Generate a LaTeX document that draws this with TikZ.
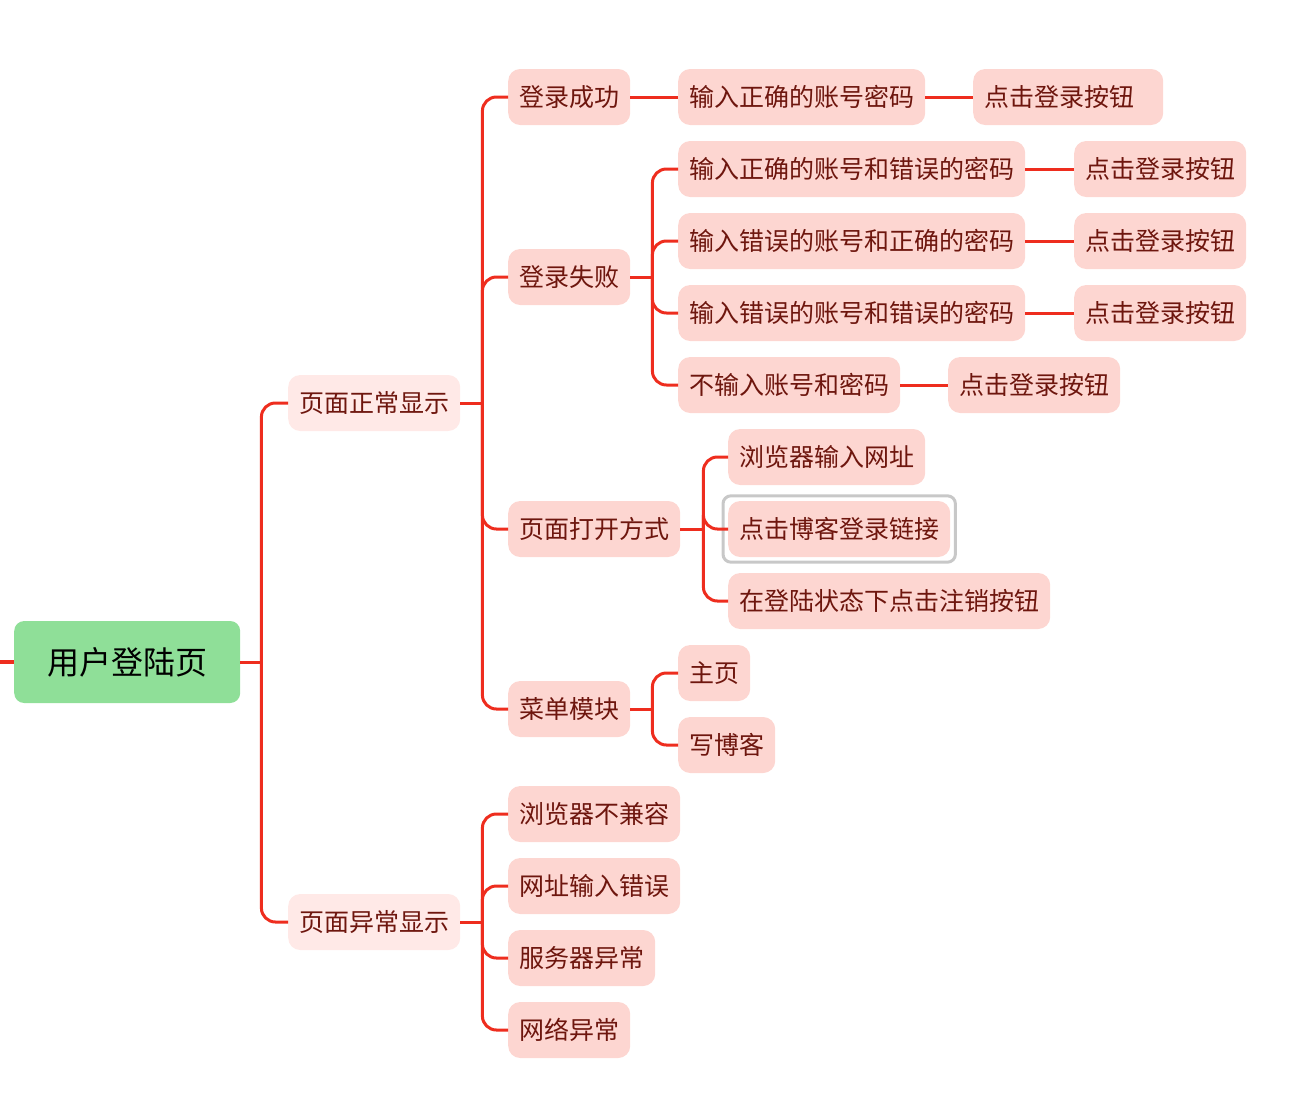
\documentclass[tikz,border=0pt]{standalone}
\usepackage{fontspec}
\setmainfont{Noto Sans CJK SC}
\definecolor{linkred}{RGB}{238,45,30}
\definecolor{rootgreen}{RGB}{143,223,152}
\definecolor{lvlone}{RGB}{255,233,231}
\definecolor{lvltwo}{RGB}{253,214,209}
\definecolor{txtred}{RGB}{110,22,14}
\definecolor{selgray}{RGB}{200,200,200}
\tikzset{
  rootbox/.style={fill=rootgreen, rounded corners=10pt, minimum height=82pt, inner xsep=33pt, inner ysep=0pt, font=\fontsize{32}{36}\selectfont, text=black, anchor=west},
  onebox/.style={fill=lvlone, rounded corners=12pt, minimum height=56pt, inner xsep=11pt, inner ysep=0pt, font=\fontsize{25}{28}\selectfont, text=txtred, anchor=west},
  twobox/.style={onebox, fill=lvltwo},
  link/.style={draw=linkred, line width=3pt},
  elbow/.style={link, rounded corners=14pt},
}
\begin{document}
\begin{tikzpicture}[x=1pt,y=-1pt]
\useasboundingbox (0,0) rectangle (1305,1095);

% nodes
\node[rootbox] (root) at (14,662) {用户登陆页};
\coordinate (left) at (0,662);

\node[onebox] (normal) at (288,403) {页面正常显示};
\node[onebox] (abnormal) at (288,922) {页面异常显示};

\node[twobox] (succ) at (508,97) {登录成功};
\node[twobox] (fail) at (508,277) {登录失败};
\node[twobox] (open) at (508,529) {页面打开方式};
\node[twobox] (menu) at (508,709) {菜单模块};

\node[twobox] (s1) at (678,97) {输入正确的账号密码};
\node[twobox, minimum width=190pt, align=left, text width=168pt] (s1b) at (973,97) {点击登录按钮};

\node[twobox] (f1) at (678,169) {输入正确的账号和错误的密码};
\node[twobox] (f1b) at (1074,169) {点击登录按钮};
\node[twobox] (f2) at (678,241) {输入错误的账号和正确的密码};
\node[twobox] (f2b) at (1074,241) {点击登录按钮};
\node[twobox] (f3) at (678,313) {输入错误的账号和错误的密码};
\node[twobox] (f3b) at (1074,313) {点击登录按钮};
\node[twobox] (f4) at (678,385) {不输入账号和密码};
\node[twobox] (f4b) at (948,385) {点击登录按钮};

\node[twobox] (o1) at (728,457) {浏览器输入网址};
\node[twobox] (o2) at (728,529) {点击博客登录链接};
\node[twobox] (o3) at (728,601) {在登陆状态下点击注销按钮};

\node[twobox] (m1) at (678,673) {主页};
\node[twobox] (m2) at (678,745) {写博客};

\node[twobox] (a1) at (508,814) {浏览器不兼容};
\node[twobox] (a2) at (508,886) {网址输入错误};
\node[twobox] (a3) at (508,958) {服务器异常};
\node[twobox] (a4) at (508,1030) {网络异常};

% selection frame
\draw[selgray, line width=3pt, rounded corners=8pt]
  ([shift={(-5pt,-5pt)}]o2.south west) rectangle ([shift={(5pt,5pt)}]o2.north east);

% junction coordinates
\coordinate (jr) at ([xshift=21pt]root.east);
\coordinate (jn) at ([xshift=22pt]normal.east);
\coordinate (ja) at ([xshift=22pt]abnormal.east);
\coordinate (jf) at ([xshift=22pt]fail.east);
\coordinate (jo) at ([xshift=23pt]open.east);
\coordinate (jm) at ([xshift=22pt]menu.east);

% connectors
\draw[link, line width=4pt] (left) -- (root.west);
\draw[link] (root.east) -- (jr);
\draw[elbow] (jr) |- (normal.west);
\draw[elbow] (jr) |- (abnormal.west);

\draw[link] (normal.east) -- (jn);
\foreach \c in {succ,fail,open,menu} \draw[elbow] (jn) |- (\c.west);

\draw[link] (succ.east) -- (s1.west);
\draw[link] (s1.east) -- (s1b.west);

\draw[link] (fail.east) -- (jf);
\foreach \c in {f1,f2,f3,f4} \draw[elbow] (jf) |- (\c.west);
\draw[link] (f1.east) -- (f1b.west);
\draw[link] (f2.east) -- (f2b.west);
\draw[link] (f3.east) -- (f3b.west);
\draw[link] (f4.east) -- (f4b.west);

\draw[link] (open.east) -- (jo);
\foreach \c in {o1,o2,o3} \draw[elbow] (jo) |- (\c.west);

\draw[link] (menu.east) -- (jm);
\foreach \c in {m1,m2} \draw[elbow] (jm) |- (\c.west);

\draw[link] (abnormal.east) -- (ja);
\foreach \c in {a1,a2,a3,a4} \draw[elbow] (ja) |- (\c.west);
\end{tikzpicture}
\end{document}
